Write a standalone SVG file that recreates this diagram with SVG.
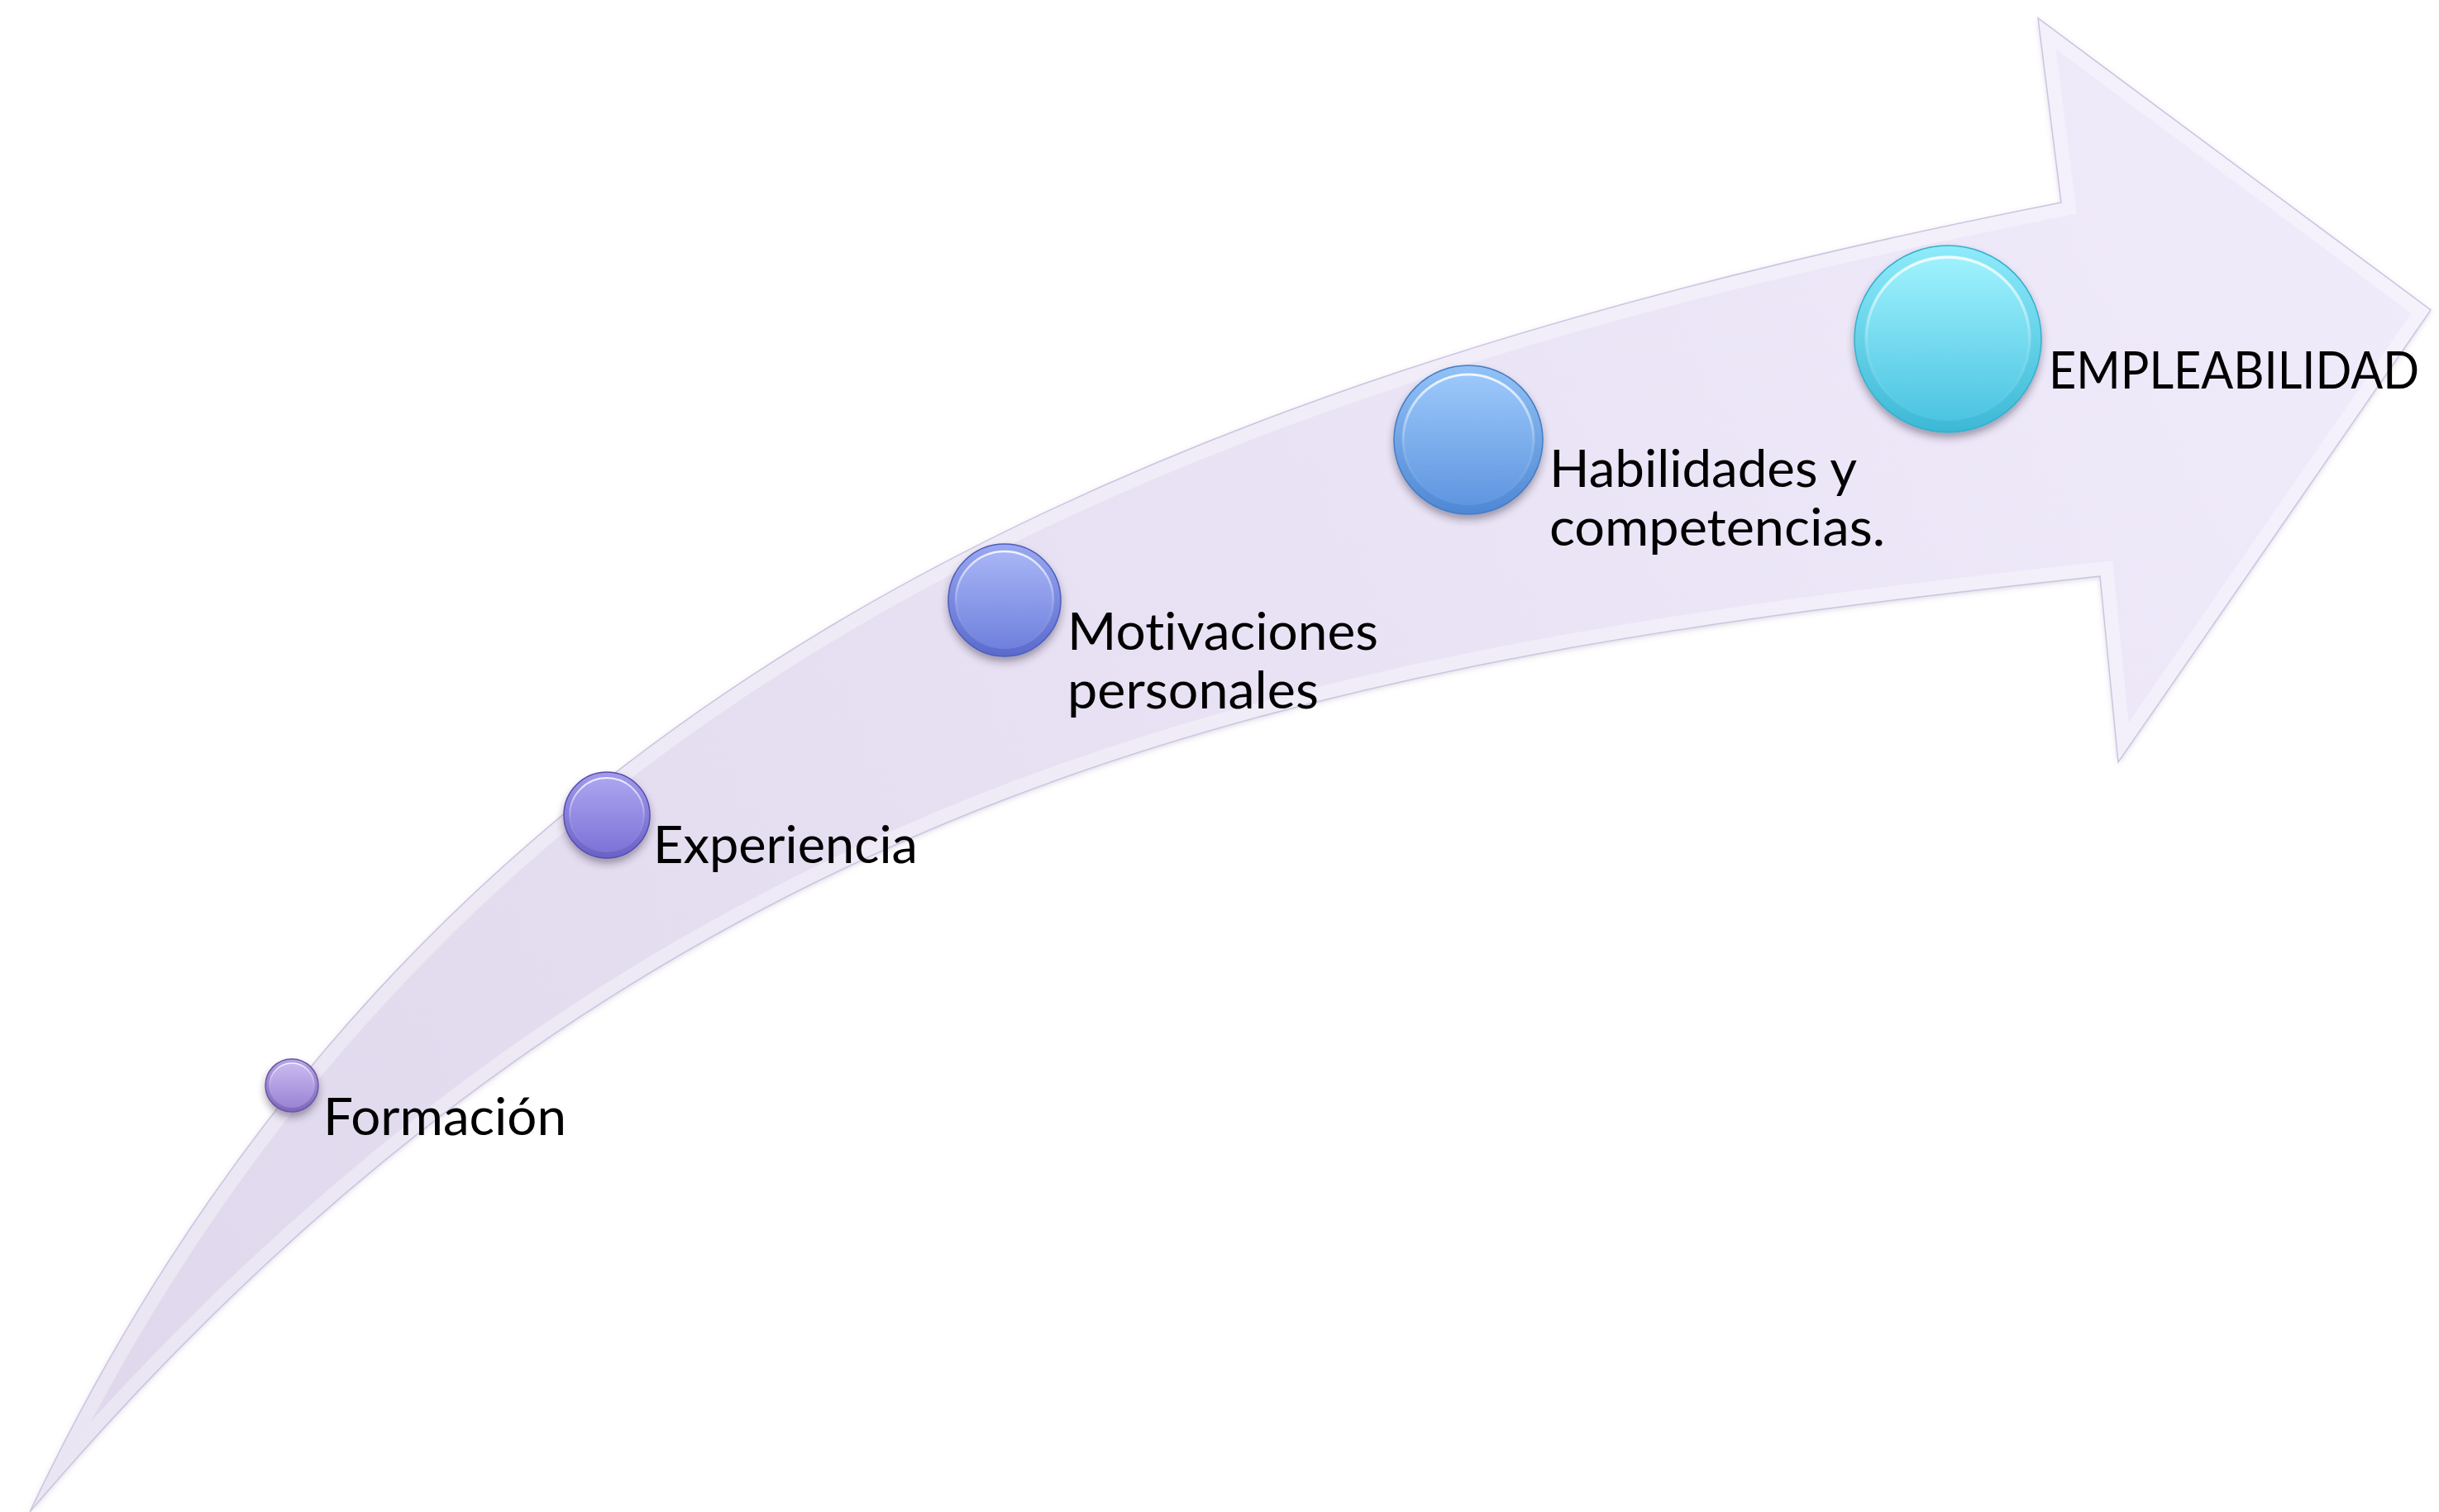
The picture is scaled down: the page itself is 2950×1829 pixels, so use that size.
<svg xmlns="http://www.w3.org/2000/svg" width="2950" height="1829" viewBox="0 0 2950 1829">
<defs>
<style>
.lbl{font-family:Lato,"Open Sans","Liberation Sans",sans-serif;font-size:62px;fill:#000;font-variant-ligatures:none;font-feature-settings:"liga" 0,"clig" 0}
.hl{stroke:url(#hlg);}
</style>
<linearGradient id="band" gradientUnits="userSpaceOnUse" x1="36" y1="1829" x2="2940" y2="375">
<stop offset="0" stop-color="#DFD8EC"/>
<stop offset="0.5" stop-color="#E7E1F3"/>
<stop offset="1" stop-color="#F0EBFB"/>
</linearGradient>
<linearGradient id="hlg" x1="0" y1="0" x2="0" y2="1">
<stop offset="0" stop-color="#fff" stop-opacity="0.85"/>
<stop offset="0.55" stop-color="#fff" stop-opacity="0.15"/>
<stop offset="1" stop-color="#fff" stop-opacity="0"/>
</linearGradient>
<filter id="sh" x="-30%" y="-30%" width="160%" height="170%">
<feDropShadow dx="0" dy="6" stdDeviation="5" flood-color="#302040" flood-opacity="0.4"/>
</filter>
<filter id="ash" x="-5%" y="-5%" width="110%" height="110%">
<feDropShadow dx="0" dy="2" stdDeviation="3" flood-color="#6A5A8A" flood-opacity="0.25"/>
</filter>
<clipPath id="aclip"><path id="arrowShape" d="M36,1829 C500,850 1350,470 2493,245 L2465,22 L2940,375 L2562,922 L2540,697 C1600,800 800,930 36,1829 Z"/></clipPath>
<linearGradient id="o1" x1="0" y1="0" x2="0" y2="1"><stop offset="0" stop-color="#B7A5E6"/><stop offset="1" stop-color="#7F67BC"/></linearGradient>
<linearGradient id="i1" x1="0" y1="0" x2="0" y2="1"><stop offset="0" stop-color="#C9BAF0"/><stop offset="1" stop-color="#9A84D4"/></linearGradient>
<linearGradient id="o2" x1="0" y1="0" x2="0" y2="1"><stop offset="0" stop-color="#A29BEC"/><stop offset="1" stop-color="#6A61C6"/></linearGradient>
<linearGradient id="i2" x1="0" y1="0" x2="0" y2="1"><stop offset="0" stop-color="#ABA5F0"/><stop offset="1" stop-color="#7C73D6"/></linearGradient>
<linearGradient id="o3" x1="0" y1="0" x2="0" y2="1"><stop offset="0" stop-color="#9AA8F2"/><stop offset="1" stop-color="#5A6ACC"/></linearGradient>
<linearGradient id="i3" x1="0" y1="0" x2="0" y2="1"><stop offset="0" stop-color="#A8B5F6"/><stop offset="1" stop-color="#6F80DC"/></linearGradient>
<linearGradient id="o4" x1="0" y1="0" x2="0" y2="1"><stop offset="0" stop-color="#92C2F6"/><stop offset="1" stop-color="#4E88D4"/></linearGradient>
<linearGradient id="i4" x1="0" y1="0" x2="0" y2="1"><stop offset="0" stop-color="#9CC8FA"/><stop offset="1" stop-color="#5F96E0"/></linearGradient>
<linearGradient id="o5" x1="0" y1="0" x2="0" y2="1"><stop offset="0" stop-color="#8EEBFA"/><stop offset="1" stop-color="#3CB8D6"/></linearGradient>
<linearGradient id="i5" x1="0" y1="0" x2="0" y2="1"><stop offset="0" stop-color="#9FF2FD"/><stop offset="1" stop-color="#4CC4E2"/></linearGradient>
</defs>
<rect width="2950" height="1829" fill="#fff"/>
<g id="arrow">
<use href="#arrowShape" fill="url(#band)" filter="url(#ash)"/>
<g clip-path="url(#aclip)">
<path d="M36,1829 C500,850 1350,470 2493,245 L2465,22 L2940,375 L2562,922 L2540,697 C1600,800 800,930 36,1829 Z" fill="none" stroke="#FFFFFF" stroke-opacity="0.35" stroke-width="34"/>
</g>
<path d="M36,1829 C500,850 1350,470 2493,245 L2465,22 L2940,375 L2562,922 L2540,697 C1600,800 800,930 36,1829 Z" fill="none" stroke="#CDC4E0" stroke-width="1.5"/>
</g>
<g id="connectors"></g>
<g id="node-formacion">
<circle cx="353" cy="1313" r="32" fill="url(#o1)" stroke="#6A55A6" stroke-width="1.5" filter="url(#sh)"/>
<circle cx="353" cy="1313" r="27" class="hl" fill="url(#i1)" stroke-width="1.5"/>
<text class="lbl" x="391" y="1373" textLength="294" lengthAdjust="spacingAndGlyphs">Formación</text>
</g>
<g id="node-experiencia">
<circle cx="734" cy="986" r="52" fill="url(#o2)" stroke="#564CAE" stroke-width="1.5" filter="url(#sh)"/>
<circle cx="734" cy="986" r="45" class="hl" fill="url(#i2)" stroke-width="2"/>
<text class="lbl" x="790" y="1044" textLength="320" lengthAdjust="spacingAndGlyphs">Experiencia</text>
</g>
<g id="node-motivaciones">
<circle cx="1215" cy="726" r="68" fill="url(#o3)" stroke="#4D5DBA" stroke-width="1.5" filter="url(#sh)"/>
<circle cx="1215" cy="726" r="59" class="hl" fill="url(#i3)" stroke-width="2.5"/>
<text class="lbl" x="1291" y="786" textLength="376" lengthAdjust="spacingAndGlyphs">Motivaciones</text>
<text class="lbl" x="1291" y="857" textLength="304" lengthAdjust="spacingAndGlyphs">personales</text>
</g>
<g id="node-habilidades">
<circle cx="1776" cy="532" r="90" fill="url(#o4)" stroke="#467CC4" stroke-width="1.5" filter="url(#sh)"/>
<circle cx="1776" cy="532" r="79" class="hl" fill="url(#i4)" stroke-width="3"/>
<text class="lbl" x="1874" y="589" textLength="372" lengthAdjust="spacingAndGlyphs">Habilidades y</text>
<text class="lbl" x="1874" y="660" textLength="406" lengthAdjust="spacingAndGlyphs">competencias.</text>
</g>
<g id="node-empleabilidad">
<circle cx="2356" cy="410" r="113" fill="url(#o5)" stroke="#35AFCC" stroke-width="1.5" filter="url(#sh)"/>
<circle cx="2356" cy="410" r="99" class="hl" fill="url(#i5)" stroke-width="3.5"/>
<text class="lbl" x="2478" y="470" textLength="448" lengthAdjust="spacingAndGlyphs">EMPLEABILIDAD</text>
</g>
</svg>
